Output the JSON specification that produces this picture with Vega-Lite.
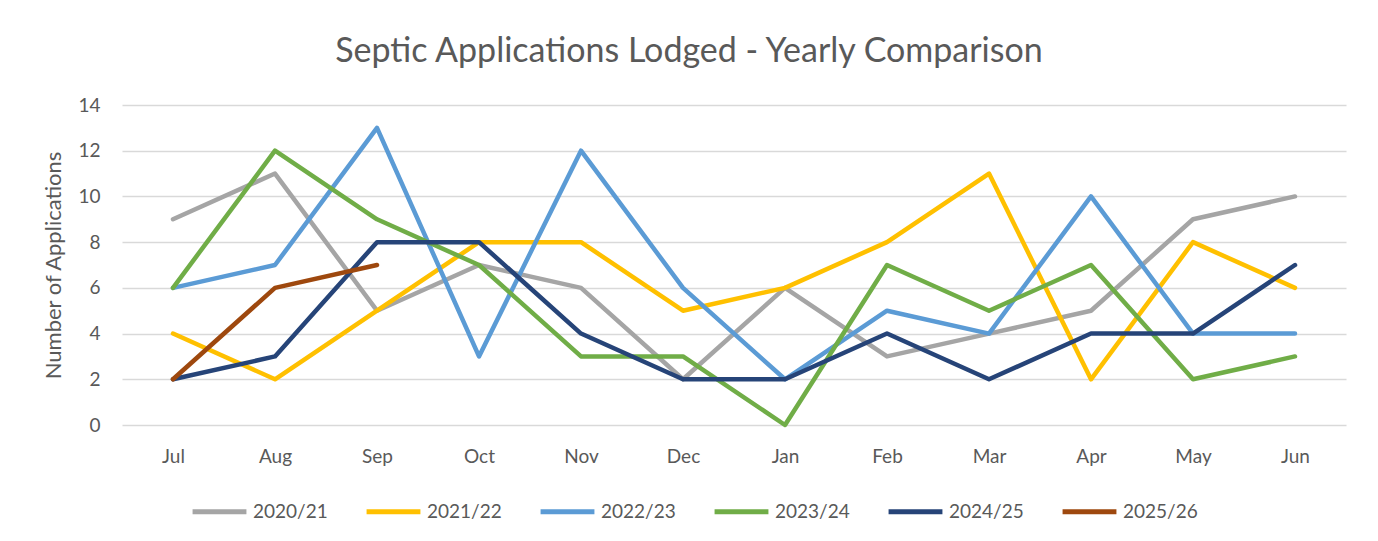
{
  "$schema": "https://vega.github.io/schema/vega-lite/v6.json",
  "width": 1224,
  "height": 320,
  "autosize": {"type": "none"},
  "padding": {"left": 122, "top": 105, "right": 32, "bottom": 116},
  "background": "white",
  "title": {
    "text": "Septic Applications Lodged - Yearly Comparison",
    "anchor": "middle",
    "dx": -45,
    "offset": 27,
    "fontSize": 34,
    "font": "Lato",
    "fontWeight": "normal",
    "color": "#595959"
  },
  "data": {
    "values": [
      {"m": "Jul", "s": "2020/21", "v": 9}, {"m": "Aug", "s": "2020/21", "v": 11}, {"m": "Sep", "s": "2020/21", "v": 5}, {"m": "Oct", "s": "2020/21", "v": 7}, {"m": "Nov", "s": "2020/21", "v": 6}, {"m": "Dec", "s": "2020/21", "v": 2}, {"m": "Jan", "s": "2020/21", "v": 6}, {"m": "Feb", "s": "2020/21", "v": 3}, {"m": "Mar", "s": "2020/21", "v": 4}, {"m": "Apr", "s": "2020/21", "v": 5}, {"m": "May", "s": "2020/21", "v": 9}, {"m": "Jun", "s": "2020/21", "v": 10},
      {"m": "Jul", "s": "2021/22", "v": 4}, {"m": "Aug", "s": "2021/22", "v": 2}, {"m": "Sep", "s": "2021/22", "v": 5}, {"m": "Oct", "s": "2021/22", "v": 8}, {"m": "Nov", "s": "2021/22", "v": 8}, {"m": "Dec", "s": "2021/22", "v": 5}, {"m": "Jan", "s": "2021/22", "v": 6}, {"m": "Feb", "s": "2021/22", "v": 8}, {"m": "Mar", "s": "2021/22", "v": 11}, {"m": "Apr", "s": "2021/22", "v": 2}, {"m": "May", "s": "2021/22", "v": 8}, {"m": "Jun", "s": "2021/22", "v": 6},
      {"m": "Jul", "s": "2022/23", "v": 6}, {"m": "Aug", "s": "2022/23", "v": 7}, {"m": "Sep", "s": "2022/23", "v": 13}, {"m": "Oct", "s": "2022/23", "v": 3}, {"m": "Nov", "s": "2022/23", "v": 12}, {"m": "Dec", "s": "2022/23", "v": 6}, {"m": "Jan", "s": "2022/23", "v": 2}, {"m": "Feb", "s": "2022/23", "v": 5}, {"m": "Mar", "s": "2022/23", "v": 4}, {"m": "Apr", "s": "2022/23", "v": 10}, {"m": "May", "s": "2022/23", "v": 4}, {"m": "Jun", "s": "2022/23", "v": 4},
      {"m": "Jul", "s": "2023/24", "v": 6}, {"m": "Aug", "s": "2023/24", "v": 12}, {"m": "Sep", "s": "2023/24", "v": 9}, {"m": "Oct", "s": "2023/24", "v": 7}, {"m": "Nov", "s": "2023/24", "v": 3}, {"m": "Dec", "s": "2023/24", "v": 3}, {"m": "Jan", "s": "2023/24", "v": 0}, {"m": "Feb", "s": "2023/24", "v": 7}, {"m": "Mar", "s": "2023/24", "v": 5}, {"m": "Apr", "s": "2023/24", "v": 7}, {"m": "May", "s": "2023/24", "v": 2}, {"m": "Jun", "s": "2023/24", "v": 3},
      {"m": "Jul", "s": "2024/25", "v": 2}, {"m": "Aug", "s": "2024/25", "v": 3}, {"m": "Sep", "s": "2024/25", "v": 8}, {"m": "Oct", "s": "2024/25", "v": 8}, {"m": "Nov", "s": "2024/25", "v": 4}, {"m": "Dec", "s": "2024/25", "v": 2}, {"m": "Jan", "s": "2024/25", "v": 2}, {"m": "Feb", "s": "2024/25", "v": 4}, {"m": "Mar", "s": "2024/25", "v": 2}, {"m": "Apr", "s": "2024/25", "v": 4}, {"m": "May", "s": "2024/25", "v": 4}, {"m": "Jun", "s": "2024/25", "v": 7},
      {"m": "Jul", "s": "2025/26", "v": 2}, {"m": "Aug", "s": "2025/26", "v": 6}, {"m": "Sep", "s": "2025/26", "v": 7}
    ]
  },
  "mark": {"type": "line", "strokeWidth": 4.5, "strokeCap": "round", "strokeJoin": "round"},
  "encoding": {
    "x": {
      "field": "m",
      "type": "ordinal",
      "sort": ["Jul", "Aug", "Sep", "Oct", "Nov", "Dec", "Jan", "Feb", "Mar", "Apr", "May", "Jun"],
      "scale": {"type": "point", "padding": 0.5},
      "axis": {
        "title": null,
        "labelAngle": 0,
        "domain": false,
        "ticks": false,
        "grid": false,
        "labelPadding": 22,
        "labelFontSize": 19,
        "labelFont": "Lato",
        "labelColor": "#595959"
      }
    },
    "y": {
      "field": "v",
      "type": "quantitative",
      "scale": {"domain": [0, 14], "nice": false},
      "axis": {
        "title": "Number of Applications",
        "titleFontSize": 22,
        "titleFont": "Lato",
        "titleFontWeight": "normal",
        "titleColor": "#595959",
        "titlePadding": 12,
        "values": [0, 2, 4, 6, 8, 10, 12, 14],
        "domain": false,
        "ticks": false,
        "labelPadding": 22,
        "labelFontSize": 19,
        "labelFont": "Lato",
        "labelColor": "#595959",
        "gridColor": "#D9D9D9",
        "gridWidth": 1.5
      }
    },
    "color": {
      "field": "s",
      "type": "nominal",
      "scale": {
        "domain": ["2020/21", "2021/22", "2022/23", "2023/24", "2024/25", "2025/26"],
        "range": ["#A5A5A5", "#FFC000", "#5B9BD5", "#70AD47", "#264478", "#9E480E"]
      },
      "legend": {
        "title": null,
        "orient": "none",
        "direction": "horizontal",
        "legendX": 68,
        "legendY": 377,
        "columns": 6,
        "gridAlign": "all",
        "symbolType": "stroke",
        "symbolSize": 2900,
        "symbolStrokeWidth": 5,
        "labelOffset": 4,
        "labelFontSize": 19,
        "labelFont": "Lato",
        "labelColor": "#595959",
        "columnPadding": 28
      }
    }
  },
  "config": {"view": {"stroke": null}}
}
